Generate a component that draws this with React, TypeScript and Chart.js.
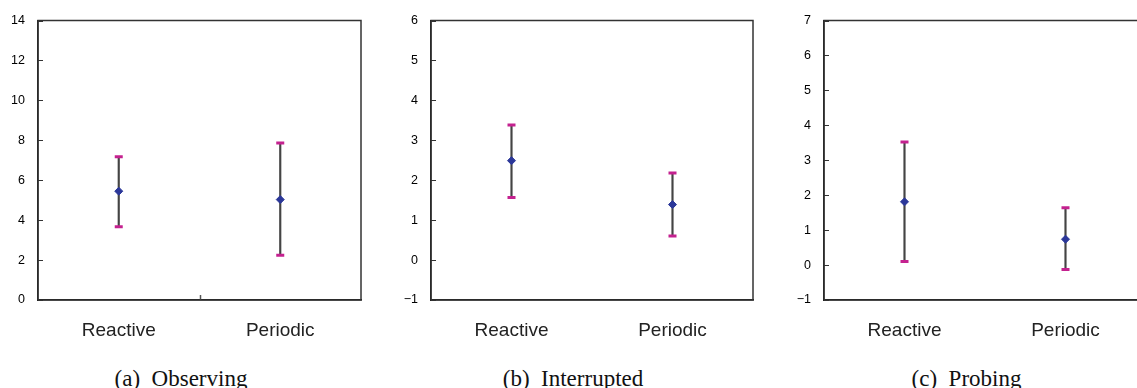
import React, { useEffect, useRef } from "react";
import { Chart, registerables } from "chart.js";

Chart.register(...registerables);

const categories = ["Reactive", "Periodic"];

const obsMean = [5.45, 5.03];
const obsLow = [3.67, 2.24];
const obsHigh = [7.17, 7.86];

const intMean = [2.49, 1.39];
const intLow = [1.57, 0.6];
const intHigh = [3.38, 2.18];

const probMean = [1.81, 0.74];
const probLow = [0.1, -0.13];
const probHigh = [3.52, 1.64];

const captions = ["(a)\u2002Observing", "(b)\u2002Interrupted", "(c)\u2002Probing"];

const CAP = "#C4218F";
const MEAN = "#2B3799";
const WHISK = "#444444";

const boxPlugin = {
  id: "boxPlugin",
  afterDraw(chart: any, _args: any, opts: any) {
    const { ctx, chartArea } = chart;
    ctx.save();
    // inward tick marks on the y axis
    const ys = chart.scales.y;
    ctx.strokeStyle = "#333";
    ctx.lineWidth = 1;
    ys.ticks.forEach((t: any) => {
      const y = Math.round(ys.getPixelForValue(t.value)) + 0.5;
      ctx.beginPath();
      ctx.moveTo(chartArea.left, y);
      ctx.lineTo(chartArea.left + 5, y);
      ctx.stroke();
    });
    if (opts && opts.midTick) {
      const xs = chart.scales.x;
      const x = Math.round((xs.getPixelForValue(0) + xs.getPixelForValue(1)) / 2) + 0.5;
      ctx.strokeStyle = "#555";
      ctx.lineWidth = 1.5;
      ctx.beginPath();
      ctx.moveTo(x, chartArea.bottom);
      ctx.lineTo(x, chartArea.bottom - 5);
      ctx.stroke();
    }
    ctx.strokeStyle = "#333";
    ctx.lineWidth = 1.5;
    ctx.strokeRect(chartArea.left, chartArea.top, chartArea.right - chartArea.left, chartArea.bottom - chartArea.top);
    ctx.restore();
  },
};

type PanelProps = {
  left: number;
  width: number;
  axisW: number;
  padRight: number;
  mean: number[];
  low: number[];
  high: number[];
  ymin: number;
  ymax: number;
  step: number;
  midTick: boolean;
};

function Panel(p: PanelProps) {
  const ref = useRef<HTMLCanvasElement | null>(null);
  useEffect(() => {
    if (!ref.current) return;
    const chart = new Chart(ref.current, {
      type: "bar",
      data: {
        labels: categories,
        datasets: [
          {
            type: "line",
            data: p.mean,
            showLine: false,
            pointStyle: "rectRot",
            pointRadius: 4,
            pointBackgroundColor: MEAN,
            pointBorderColor: MEAN,
            pointBorderWidth: 1,
            order: 0,
          } as any,
          {
            type: "line",
            data: p.high,
            showLine: false,
            pointStyle: "line",
            pointRadius: 4,
            pointBorderColor: CAP,
            pointBorderWidth: 3,
            order: 1,
          } as any,
          {
            type: "line",
            data: p.low,
            showLine: false,
            pointStyle: "line",
            pointRadius: 4,
            pointBorderColor: CAP,
            pointBorderWidth: 3,
            order: 1,
          } as any,
          {
            type: "bar",
            data: p.low.map((l, i) => [l, p.high[i]]),
            backgroundColor: WHISK,
            borderWidth: 0,
            barThickness: 1.5,
            order: 2,
          } as any,
        ],
      },
      options: {
        responsive: false,
        animation: false,
        layout: { padding: { left: 0, right: p.padRight, top: 19, bottom: 0 } },
        plugins: {
          legend: { display: false },
          tooltip: { enabled: false },
          boxPlugin: { midTick: p.midTick },
        } as any,
        scales: {
          x: {
            grid: { drawOnChartArea: false, drawTicks: false },
            border: { display: true, color: "#111", width: 1.5 },
            ticks: {
              padding: 19,
              color: "#222",
              font: { family: "'Liberation Sans', Arial, sans-serif", size: 19 },
            },
            afterFit: (s: any) => {
              s.height = 45;
            },
          },
          y: {
            min: p.ymin,
            max: p.ymax,
            grid: { drawOnChartArea: false, drawTicks: false },
            border: { display: true, color: "#111", width: 1.5 },
            ticks: {
              stepSize: p.step,
              padding: 13,
              color: "#000",
              font: { family: "'Liberation Sans', Arial, sans-serif", size: 12.5 },
              callback: (v: any) => String(v).replace("-", "\u2212"),
            },
            afterFit: (s: any) => {
              s.width = p.axisW;
            },
          },
        },
      },
      plugins: [boxPlugin],
    });
    return () => chart.destroy();
  }, []);
  return (
    <canvas
      ref={ref}
      width={p.width}
      height={345}
      style={{ position: "absolute", left: p.left, top: 0, width: p.width, height: 345, display: "block" }}
    />
  );
}

export default function App() {
  const capCenters = [181, 573, 966.5];
  return (
    <div
      style={{
        position: "fixed",
        left: 0,
        top: 0,
        width: 1137,
        height: 388,
        overflow: "hidden",
        background: "#fff",
      }}
    >
      <Panel left={0} width={370} axisW={38} padRight={9} mean={obsMean} low={obsLow} high={obsHigh} ymin={0} ymax={14} step={2} midTick={true} />
      <Panel left={380} width={380} axisW={51} padRight={7} mean={intMean} low={intLow} high={intHigh} ymin={-1} ymax={6} step={1} midTick={false} />
      <Panel left={770} width={386} axisW={54} padRight={10} mean={probMean} low={probLow} high={probHigh} ymin={-1} ymax={7} step={1} midTick={false} />
      {captions.map((c, i) => (
        <div
          key={c}
          style={{
            position: "absolute",
            left: capCenters[i] - 150,
            width: 300,
            top: 366.75,
            textAlign: "center",
            fontFamily: "'Liberation Serif', 'Times New Roman', serif",
            fontSize: 23,
            lineHeight: "23px",
            color: "#111",
            whiteSpace: "pre",
          }}
        >
          {c}
        </div>
      ))}
    </div>
  );
}
